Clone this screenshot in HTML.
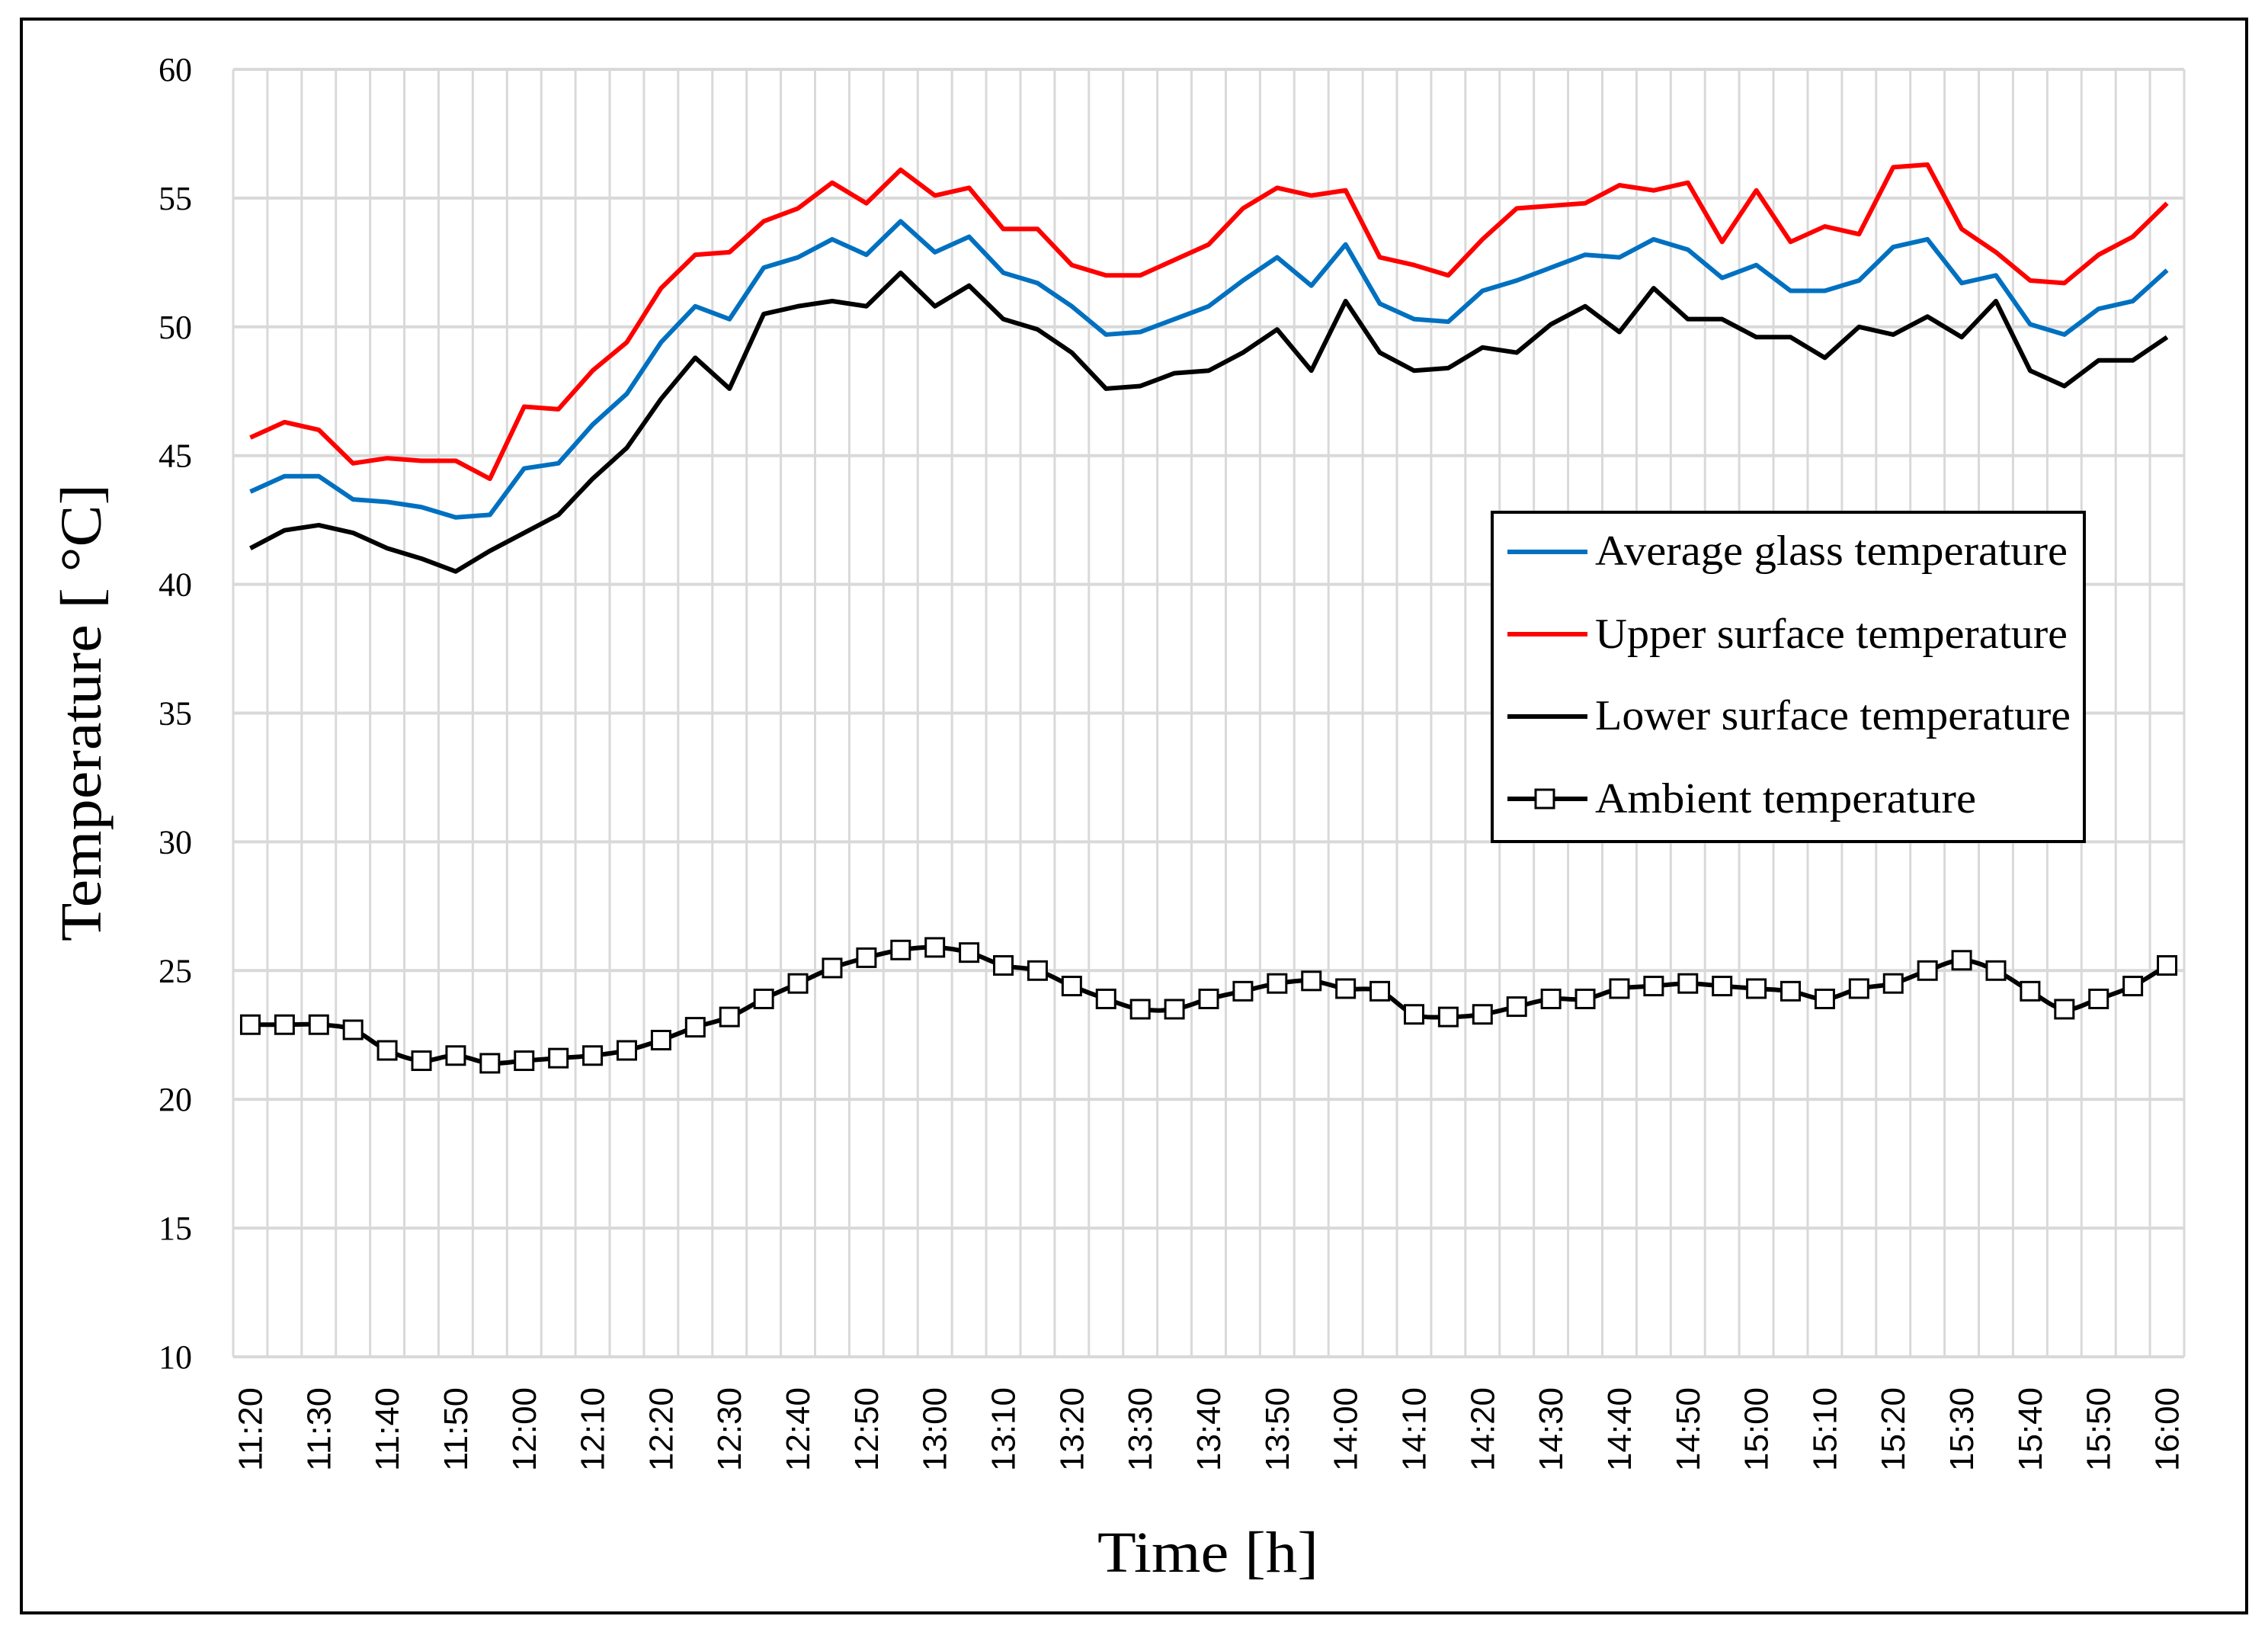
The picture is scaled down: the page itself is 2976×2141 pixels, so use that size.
<!DOCTYPE html>
<html><head><meta charset="utf-8"><style>
html,body{margin:0;padding:0;background:#fff;}
svg{display:block;font-family:"Liberation Serif",serif;}
</style></head><body>
<svg id="chart" width="2976" height="2141" viewBox="0 0 2976 2141" xmlns="http://www.w3.org/2000/svg">
<rect x="28" y="25" width="2920" height="2091" fill="#fff" stroke="#000" stroke-width="4"/>
<g id="grid"></g>
<g id="series"></g>
<g id="axes"></g>
<text transform="translate(132,935) rotate(-90)" text-anchor="middle" font-size="76" textLength="600" lengthAdjust="spacingAndGlyphs">Temperature [ °C]</text>
<text x="1585" y="2062" text-anchor="middle" font-size="76" textLength="290" lengthAdjust="spacingAndGlyphs">Time [h]</text>
<g>
<rect x="1958" y="672" width="777" height="432" fill="#fff" stroke="#000" stroke-width="4"/>
<line x1="1978" y1="724" x2="2083" y2="724" stroke="#0070c0" stroke-width="6"/>
<text x="2093" y="741" font-size="56" textLength="620" lengthAdjust="spacingAndGlyphs">Average glass temperature</text>
<line x1="1978" y1="832" x2="2083" y2="832" stroke="#ff0000" stroke-width="6"/>
<text x="2093" y="850" font-size="56" textLength="620" lengthAdjust="spacingAndGlyphs">Upper surface temperature</text>
<line x1="1978" y1="940" x2="2083" y2="940" stroke="#000" stroke-width="6"/>
<text x="2093" y="957" font-size="56" textLength="624" lengthAdjust="spacingAndGlyphs">Lower surface temperature</text>
<line x1="1978" y1="1048" x2="2083" y2="1048" stroke="#000" stroke-width="6"/>
<rect x="2015" y="1036" width="24" height="24" fill="#fff" stroke="#000" stroke-width="3"/>
<text x="2093" y="1066" font-size="56" textLength="500" lengthAdjust="spacingAndGlyphs">Ambient temperature</text>
</g>
</svg>
<script>
const categories = ["11:20","11:25","11:30","11:35","11:40","11:45","11:50","11:55","12:00","12:05","12:10","12:15","12:20","12:25","12:30","12:35","12:40","12:45","12:50","12:55","13:00","13:05","13:10","13:15","13:20","13:25","13:30","13:35","13:40","13:45","13:50","13:55","14:00","14:05","14:10","14:15","14:20","14:25","14:30","14:35","14:40","14:45","14:50","14:55","15:00","15:05","15:10","15:15","15:20","15:25","15:30","15:35","15:40","15:45","15:50","15:55","16:00"];
const upperValues = [45.7,46.3,46.0,44.7,44.9,44.8,44.8,44.1,46.9,46.8,48.3,49.4,51.5,52.8,52.9,54.1,54.6,55.6,54.8,56.1,55.1,55.4,53.8,53.8,52.4,52.0,52.0,52.6,53.2,54.6,55.4,55.1,55.3,52.7,52.4,52.0,53.4,54.6,54.7,54.8,55.5,55.3,55.6,53.3,55.3,53.3,53.9,53.6,56.2,56.3,53.8,52.9,51.8,51.7,52.8,53.5,54.8];
const averageValues = [43.6,44.2,44.2,43.3,43.2,43.0,42.6,42.7,44.5,44.7,46.2,47.4,49.4,50.8,50.3,52.3,52.7,53.4,52.8,54.1,52.9,53.5,52.1,51.7,50.8,49.7,49.8,50.3,50.8,51.8,52.7,51.6,53.2,50.9,50.3,50.2,51.4,51.8,52.3,52.8,52.7,53.4,53.0,51.9,52.4,51.4,51.4,51.8,53.1,53.4,51.7,52.0,50.1,49.7,50.7,51.0,52.2];
const lowerValues = [41.4,42.1,42.3,42.0,41.4,41.0,40.5,41.3,42.0,42.7,44.1,45.3,47.2,48.8,47.6,50.5,50.8,51.0,50.8,52.1,50.8,51.6,50.3,49.9,49.0,47.6,47.7,48.2,48.3,49.0,49.9,48.3,51.0,49.0,48.3,48.4,49.2,49.0,50.1,50.8,49.8,51.5,50.3,50.3,49.6,49.6,48.8,50.0,49.7,50.4,49.6,51.0,48.3,47.7,48.7,48.7,49.6];
const ambientValues = [22.9,22.9,22.9,22.7,21.9,21.5,21.7,21.4,21.5,21.6,21.7,21.9,22.3,22.8,23.2,23.9,24.5,25.1,25.5,25.8,25.9,25.7,25.2,25.0,24.4,23.9,23.5,23.5,23.9,24.2,24.5,24.6,24.3,24.2,23.3,23.2,23.3,23.6,23.9,23.9,24.3,24.4,24.5,24.4,24.3,24.2,23.9,24.3,24.5,25.0,25.4,25.0,24.2,23.5,23.9,24.4,25.2];
const yTicks = [10,15,20,25,30,35,40,45,50,55,60];

const NS="http://www.w3.org/2000/svg";
const L=306,R=2866,T=91,B=1780,YMIN=10,YMAX=60;
const n=categories.length, cw=(R-L)/n;
const xs=i=>L+cw*(i+0.5);
const ys=v=>B-(v-YMIN)/(YMAX-YMIN)*(B-T);
function mk(tag,attrs,parent){const e=document.createElementNS(NS,tag);for(const k in attrs)e.setAttribute(k,attrs[k]);parent.appendChild(e);return e;}
const grid=document.getElementById('grid'),axes=document.getElementById('axes'),ser=document.getElementById('series');
for(let i=0;i<=n;i++){
  const x=L+cw*i;
  const g=mk('line',{x1:x,y1:T,x2:x,y2:B,stroke:'#d9d9d9','stroke-width':3},grid);
  
  
}
yTicks.forEach(v=>{
  const g=mk('line',{x1:L,y1:ys(v),x2:R,y2:ys(v),stroke:'#d9d9d9','stroke-width':4},grid);
  
  
  const t=mk('text',{x:252,y:ys(v)+15,'text-anchor':'end','font-size':44},axes);
  
  
  t.textContent=v;
});
categories.forEach((c,i)=>{
  if(i%2) return;
  const x=xs(i);
  const t=mk('text',{transform:`translate(${x+15},1820) rotate(-90)`,'text-anchor':'end','font-size':44,'font-family':'Liberation Sans, sans-serif',textLength:110,lengthAdjust:'spacingAndGlyphs'},axes);
  
  
  t.textContent=c;
});
function poly(vals,color,name){
  const p=mk('polyline',{points:vals.map((v,i)=>xs(i)+','+ys(v)).join(' '),fill:'none',stroke:color,'stroke-width':6,'stroke-linejoin':'round'},ser);
  
  
}
poly(upperValues,'#ff0000','upper-surface-line');
poly(averageValues,'#0070c0','average-glass-line');
poly(lowerValues,'#000','lower-surface-line');
// smooth ambient
const pts=ambientValues.map((v,i)=>[xs(i),ys(v)]);
let d='M'+pts[0][0]+','+pts[0][1];
for(let i=0;i<pts.length-1;i++){
  const p0=pts[Math.max(0,i-1)],p1=pts[i],p2=pts[i+1],p3=pts[Math.min(pts.length-1,i+2)];
  const c1=[p1[0]+(p2[0]-p0[0])/6,p1[1]+(p2[1]-p0[1])/6];
  const c2=[p2[0]-(p3[0]-p1[0])/6,p2[1]-(p3[1]-p1[1])/6];
  d+=` C${c1[0]},${c1[1]} ${c2[0]},${c2[1]} ${p2[0]},${p2[1]}`;
}
const ap=mk('path',{d:d,fill:'none',stroke:'#000','stroke-width':6},ser);


ambientValues.forEach((v,i)=>{
  const r=mk('rect',{x:xs(i)-12,y:ys(v)-12,width:24,height:24,fill:'#fff',stroke:'#000','stroke-width':3},ser);
  
  
});
</script>
</body></html>
